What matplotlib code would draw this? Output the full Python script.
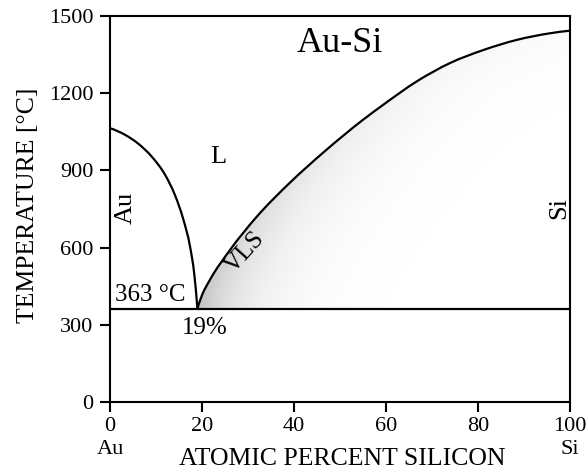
import numpy as np
import matplotlib
matplotlib.use("Agg")
import matplotlib.pyplot as plt
from matplotlib.path import Path
from matplotlib.patches import PathPatch

plt.rcParams["font.family"] = ["Liberation Serif", "DejaVu Serif"]

# Au-Si binary phase diagram (atomic % Si vs temperature in °C)
eutectic_x = 19.0
eutectic_T = 363.0

# Au-rich liquidus: from the melting point of Au down to the eutectic
au_liq_x = [0.0, 3.3, 6.2, 9.1, 12.0, 14.1, 15.9, 17.4, 18.3, 19.0]
au_liq_T = [1064, 1038, 1003, 953, 882, 805, 712, 604, 500, 363]

# Si-rich liquidus: from the eutectic up to the melting point of Si
si_liq_x = [19.0, 20.0, 21.7, 26.1, 31.9, 39.1, 46.4, 55.1, 59.4,
            66.7, 73.9, 81.2, 88.4, 95.7, 100.0]
si_liq_T = [363, 415, 474, 591, 720, 852, 970, 1098, 1155,
            1246, 1317, 1368, 1407, 1433, 1443]

x_ticks = [0, 20, 40, 60, 80, 100]
x_tick_labels = ["0\nAu", "20", "40", "60", "80", "100\nSi"]
y_ticks = [0, 300, 600, 900, 1200, 1500]


def smooth_path(xs, ys):
    """Cubic Hermite curve through the given points, as Bezier segments."""
    x = np.asarray(xs, float)
    y = np.asarray(ys, float)
    h = np.diff(x)
    d = np.diff(y) / h
    m = np.empty_like(x)
    m[1:-1] = (h[1:] * d[:-1] + h[:-1] * d[1:]) / (h[:-1] + h[1:])
    m[0] = 2 * d[0] - m[1]
    m[-1] = 2 * d[-1] - m[-2]
    verts = [(x[0], y[0])]
    codes = [Path.MOVETO]
    for i in range(len(x) - 1):
        verts += [(x[i] + h[i] / 3, y[i] + m[i] * h[i] / 3),
                  (x[i + 1] - h[i] / 3, y[i + 1] - m[i + 1] * h[i] / 3),
                  (x[i + 1], y[i + 1])]
        codes += [Path.CURVE4] * 3
    return Path(np.array(verts), codes)


fig = plt.figure(figsize=(5.88, 4.71), dpi=100)
ax = fig.add_axes([110 / 588, 1 - 402 / 471, 460 / 588, 386 / 471])
ax.set_xlim(0, 100)
ax.set_ylim(0, 1500)

au_path = smooth_path(au_liq_x, au_liq_T)
si_path = smooth_path(si_liq_x, si_liq_T)

# Grey VLS shading under the Si-rich liquidus, fading away from the curve
px_per_x = 460 / 100.0
px_per_T = 386 / 1500.0
pts = [bez(np.linspace(0, 1, 60)) for bez, _code in si_path.iter_bezier()]
dense = np.vstack(pts)
cx = dense[:, 0] * px_per_x
cy = dense[:, 1] * px_per_T
arc = np.concatenate([[0], np.cumsum(np.hypot(np.diff(cx), np.diff(cy)))])

gx = np.linspace(0, 100, 460)
gT = np.linspace(0, 1500, 386)
GX, GT = np.meshgrid(gx, gT)
order = np.argsort(dense[:, 0])
curve_at = np.interp(GX, dense[order, 0], dense[order, 1])
inside = (GT < curve_at) & (GT > eutectic_T) & (GX > eutectic_x)

PX = GX[inside] * px_per_x
PY = GT[inside] * px_per_T
best_d = np.full(PX.shape, np.inf)
best_s = np.zeros(PX.shape)
for k in range(0, len(cx), 3):
    dist = np.hypot(PX - cx[k], PY - cy[k])
    sel = dist < best_d
    best_d[sel] = dist[sel]
    best_s[sel] = arc[k]

amp = 0.25 * np.exp(-best_s / 190.0)
dark = amp * np.exp(-best_d / 45.0)
alpha = np.zeros(GX.shape)
alpha[inside] = dark
rgba = np.zeros(GX.shape + (4,))
rgba[..., 3] = alpha
ax.imshow(rgba, extent=(0, 100, 0, 1500), origin="lower", aspect="auto",
          interpolation="bilinear", zorder=1)

# Phase boundaries
for path in (au_path, si_path):
    ax.add_patch(PathPatch(path, facecolor="none", edgecolor="black", lw=1.6,
                           zorder=3, capstyle="butt"))
ax.axhline(eutectic_T, color="black", lw=1.6, zorder=3)

# Region and point labels
ax.text(50, 1392, "Au-Si", fontsize=26, ha="center", va="center")
ax.text(23.5, 952, "L", fontsize=19, ha="center", va="center")
ax.text(3.4, 754, "Au", fontsize=19, ha="center", va="center", rotation=90)
ax.text(97.6, 754, "Si", fontsize=19, ha="center", va="center", rotation=90)
ax.text(29.4, 580, "VLS", fontsize=18, ha="center", va="center", rotation=48)
ax.text(1.0, 416, f"{eutectic_T:.0f} °C", fontsize=18, ha="left", va="center")
ax.text(20.7, 288, f"{eutectic_x:.0f}%", fontsize=18, ha="center", va="center")

# Axes styling
for sp in ax.spines.values():
    sp.set_linewidth(1.5)
ax.set_xticks(x_ticks)
ax.set_xticklabels(x_tick_labels, fontsize=16, linespacing=1.3)
ax.set_yticks(y_ticks)
ax.set_yticklabels([str(v) for v in y_ticks], fontsize=16)
ax.tick_params(direction="out", length=7, width=1.5, pad=5)
ax.tick_params(axis="x", pad=4)

ax.set_xlabel("ATOMIC PERCENT SILICON", fontsize=18.5)
ax.xaxis.set_label_coords(0.505, -0.119)
ax.set_ylabel("TEMPERATURE [°C]", fontsize=18.5)
ax.yaxis.set_label_coords(-0.155, 0.509)

fig.savefig("out.png", dpi=100)
